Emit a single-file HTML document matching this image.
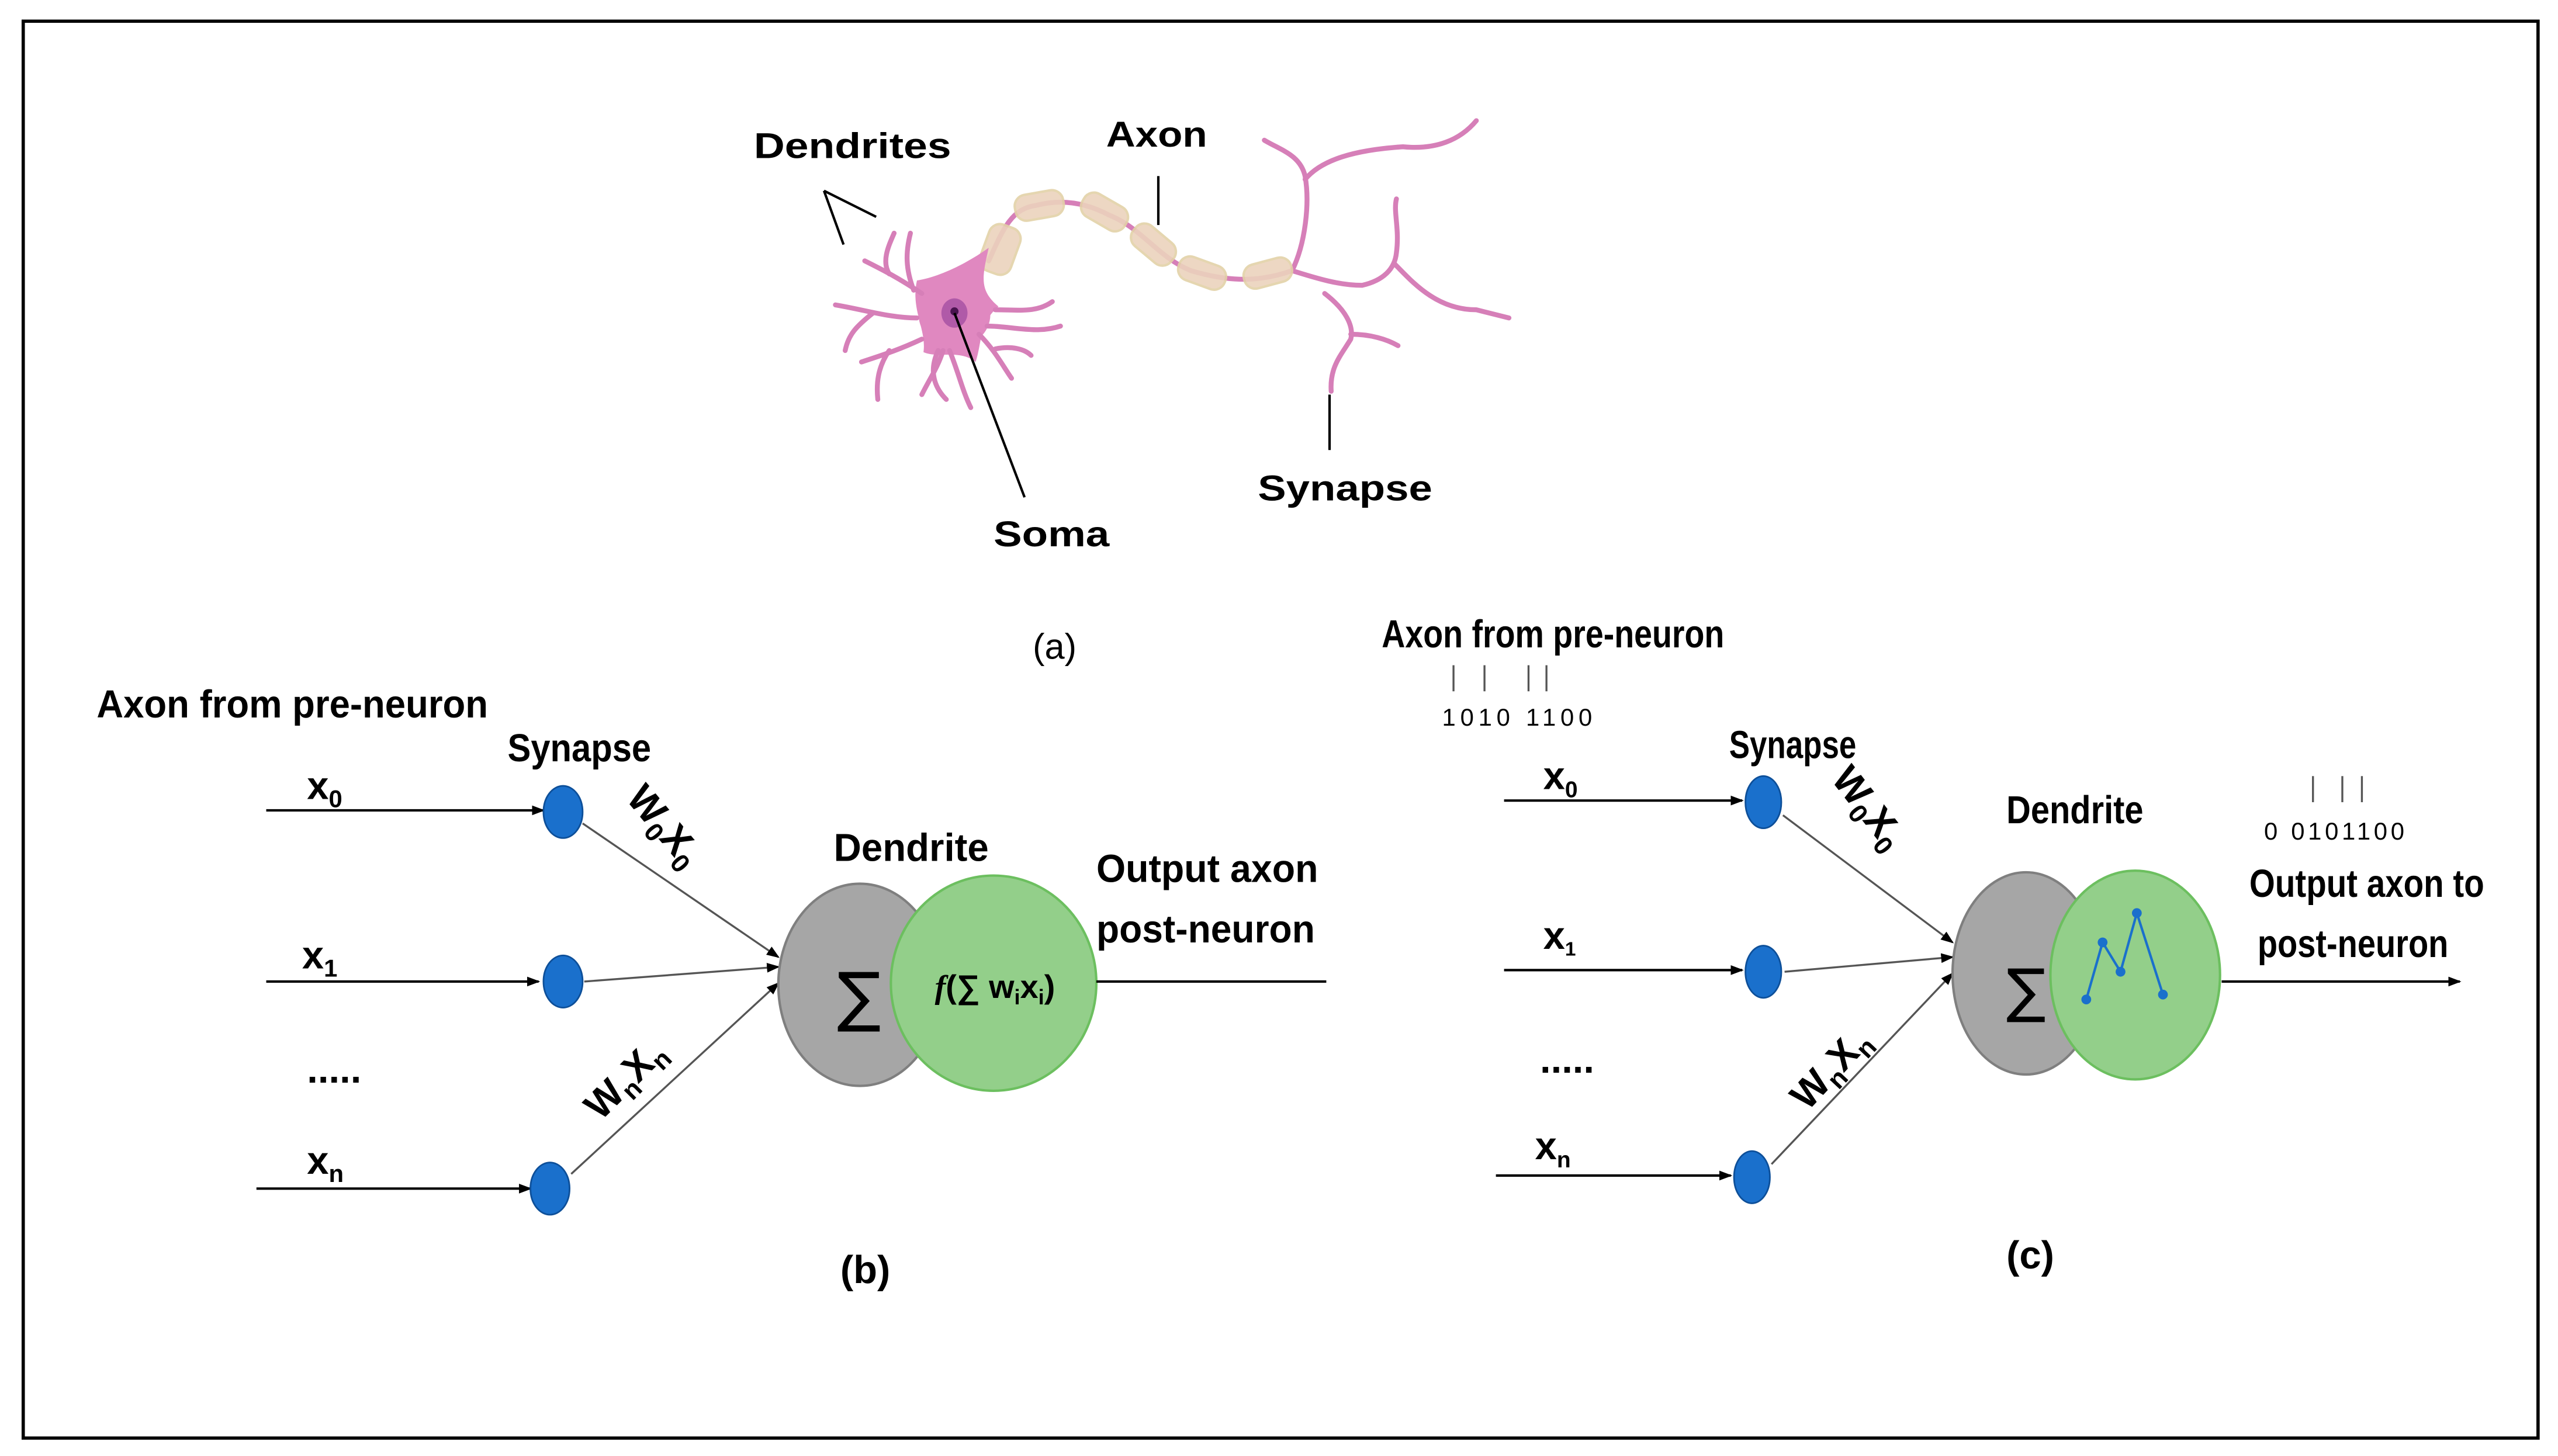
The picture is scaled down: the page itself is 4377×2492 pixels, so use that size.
<!DOCTYPE html>
<html><head><meta charset="utf-8"><style>
html,body{margin:0;padding:0;background:#fff;}
svg{display:block;}
text{font-family:"Liberation Sans Narrow","Liberation Sans",sans-serif;}
.a{font-family:"Liberation Sans",sans-serif;font-weight:bold;font-size:22px;}
.b{font-weight:bold;font-size:24px;}
.d{stroke:#d67fb8;stroke-width:3;fill:none;stroke-linecap:round;stroke-linejoin:round;}
.m{fill:#ecd3bd;stroke:#e3d2a8;stroke-width:1.5;opacity:.9;}
</style></head><body>
<svg width="4377" height="2492" viewBox="0 0 1568 893" xmlns="http://www.w3.org/2000/svg">
<defs><marker id="ar" markerWidth="8" markerHeight="8" refX="7" refY="4" orient="auto" markerUnits="userSpaceOnUse"><path d="M0,1 L8,4 L0,7 Z" fill="#000"/></marker></defs>
<rect x="14" y="13" width="1542" height="869" fill="#fff" stroke="#000" stroke-width="2"/>

<!-- (a) neuron -->
<g>
<path class="d" d="M606,160 C615,140 620,128 635,126 C650,122 665,124 680,132 C700,140 710,158 730,166 C750,172 770,174 792,166"/>
<path class="d" d="M792,166 C800,150 803,125 800,108 C797,95 785,92 775,86"/>
<path class="d" d="M800,110 C810,98 830,92 860,90 C880,92 895,86 905,74"/>
<path class="d" d="M792,166 C805,170 820,175 835,175 C848,172 855,165 856,155 C858,140 854,130 856,122"/>
<path class="d" d="M855,162 C865,172 880,190 905,190 L925,195"/>
<path class="d" d="M812,180 C825,190 830,200 828,208 C822,218 815,225 816,240"/>
<path class="d" d="M828,205 C840,205 850,208 857,212"/>
<g class="m">
<rect x="603" y="138" width="20" height="30" rx="7" transform="rotate(20 613 153)"/>
<rect x="622" y="118" width="30" height="16" rx="7" transform="rotate(-10 637 126)"/>
<rect x="662" y="122" width="30" height="16" rx="7" transform="rotate(30 677 130)"/>
<rect x="692" y="142" width="30" height="16" rx="7" transform="rotate(40 707 150)"/>
<rect x="722" y="160" width="30" height="15" rx="7" transform="rotate(20 737 167)"/>
<rect x="762" y="160" width="30" height="15" rx="7" transform="rotate(-15 777 167)"/>
</g>
<path d="M562,172 C575,170 592,162 606,152 C602,170 600,178 612,188 C600,198 602,210 598,222 C588,214 575,220 566,216 C568,202 558,190 562,172 Z" fill="#e088c0"/>
<ellipse cx="585" cy="193" rx="22" ry="20" fill="#e088c0"/>
<g class="d" style="stroke-width:3">
<path d="M565,180 C550,170 540,165 530,160"/><path d="M545,168 C540,160 545,150 548,143"/>
<path d="M562,195 C545,195 530,190 512,187"/><path d="M535,192 C525,200 520,205 518,215"/>
<path d="M565,208 C550,215 540,218 528,222"/><path d="M545,215 C538,225 537,235 538,245"/>
<path d="M578,215 C575,225 570,232 565,242"/><path d="M582,215 C588,230 590,240 595,250"/>
<path d="M600,205 C610,215 615,225 620,232"/><path d="M610,214 C620,212 628,214 632,218"/>
<path d="M610,190 C625,190 635,192 645,185"/><path d="M560,178 C555,165 555,155 558,143"/>
<path d="M605,200 C620,200 635,205 650,200"/><path d="M575,215 C568,230 575,240 580,245"/>
</g>
<ellipse cx="585" cy="192" rx="8" ry="9" fill="#b05aa8"/><circle cx="585" cy="191" r="2.5" fill="#4a1450"/>
</g>
<g stroke="#000" stroke-width="1.5">
<line x1="505" y1="117" x2="517" y2="150"/><line x1="505" y1="117" x2="537" y2="133"/>
<line x1="710" y1="108" x2="710" y2="138"/><line x1="585" y1="192" x2="628" y2="305"/>
<line x1="815" y1="242" x2="815" y2="276"/>
</g>
<text class="a" x="462" y="97" textLength="121" lengthAdjust="spacingAndGlyphs">Dendrites</text>
<text class="a" x="678" y="90" textLength="62" lengthAdjust="spacingAndGlyphs">Axon</text>
<text class="a" x="771" y="307" textLength="107" lengthAdjust="spacingAndGlyphs">Synapse</text>
<text class="a" x="609" y="335" textLength="71" lengthAdjust="spacingAndGlyphs">Soma</text>
<text x="633" y="404" font-size="22" style="font-family:'Liberation Sans',sans-serif">(a)</text>

<!-- (b) -->
<text class="b" x="59" y="440" textLength="240" lengthAdjust="spacingAndGlyphs">Axon from pre-neuron</text>
<text class="b" x="311" y="467" textLength="88" lengthAdjust="spacingAndGlyphs">Synapse</text>
<g stroke="#000" stroke-width="1.5">
<line x1="163" y1="497" x2="333" y2="497" marker-end="url(#ar)"/>
<line x1="163" y1="602" x2="330" y2="602" marker-end="url(#ar)"/>
<line x1="157" y1="729" x2="325" y2="729" marker-end="url(#ar)"/>
</g>
<g stroke="#555" stroke-width="1.2">
<line x1="357" y1="505" x2="477" y2="587" marker-end="url(#ar)"/>
<line x1="358" y1="602" x2="477" y2="593" marker-end="url(#ar)"/>
<line x1="350" y1="720" x2="477" y2="603" marker-end="url(#ar)"/>
</g>
<g fill="#1a70cc" stroke="#0d4f99"><ellipse cx="345" cy="498" rx="12" ry="16"/><ellipse cx="345" cy="602" rx="12" ry="16"/><ellipse cx="337" cy="729" rx="12" ry="16"/></g>
<text class="b" x="188" y="490" font-size="22">x<tspan font-size="15" dy="5">0</tspan></text>
<text class="b" x="185" y="594" font-size="22">x<tspan font-size="15" dy="5">1</tspan></text>
<text class="b" x="188" y="720" font-size="22">x<tspan font-size="15" dy="5">n</tspan></text>
<text class="b" x="188" y="664" font-size="20">.....</text>
<text class="b" font-size="24" transform="translate(383,490) rotate(50)">W<tspan font-size="16" dy="5">0</tspan><tspan dy="-5">X</tspan><tspan font-size="16" dy="5">0</tspan></text>
<text class="b" font-size="24" transform="translate(368,688) rotate(-45)">W<tspan font-size="16" dy="5">n</tspan><tspan dy="-5">X</tspan><tspan font-size="16" dy="5">n</tspan></text>
<ellipse cx="527" cy="604" rx="50" ry="62" fill="#a6a6a6" stroke="#7f7f7f" stroke-width="1.5"/>
<ellipse cx="609" cy="603" rx="63" ry="66" fill="#93cf8a" stroke="#6cbf5f" stroke-width="1.5"/>
<text x="513" y="625" font-size="40" style="font-family:'DejaVu Sans',sans-serif">∑</text>
<text x="573" y="612" font-size="20" font-weight="bold"><tspan font-style="italic" style="font-family:'Liberation Serif',serif">f</tspan>(∑ w<tspan font-size="13" dy="4">i</tspan><tspan dy="-4">x</tspan><tspan font-size="13" dy="4">i</tspan><tspan dy="-4">)</tspan></text>
<text class="b" x="511" y="528" textLength="95" lengthAdjust="spacingAndGlyphs">Dendrite</text>
<text class="b" x="672" y="541" textLength="136" lengthAdjust="spacingAndGlyphs">Output axon</text>
<text class="b" x="672" y="578" textLength="134" lengthAdjust="spacingAndGlyphs">post-neuron</text>
<line x1="672" y1="602" x2="813" y2="602" stroke="#000" stroke-width="1.5"/>
<text class="b" x="515" y="787" font-size="22">(b)</text>

<!-- (c) -->
<text class="b" x="847" y="397" textLength="210" lengthAdjust="spacingAndGlyphs">Axon from pre-neuron</text>
<g stroke="#555" stroke-width="1.2"><line x1="891" y1="408" x2="891" y2="424"/><line x1="910" y1="408" x2="910" y2="424"/><line x1="937" y1="408" x2="937" y2="424"/><line x1="948" y1="408" x2="948" y2="424"/></g>
<text x="884" y="445" font-size="15" textLength="92" lengthAdjust="spacing">1010 1100</text>
<text class="b" x="1060" y="465" textLength="78" lengthAdjust="spacingAndGlyphs" font-size="22">Synapse</text>
<g stroke="#000" stroke-width="1.5">
<line x1="922" y1="491" x2="1068" y2="491" marker-end="url(#ar)"/>
<line x1="922" y1="595" x2="1068" y2="595" marker-end="url(#ar)"/>
<line x1="917" y1="721" x2="1061" y2="721" marker-end="url(#ar)"/>
</g>
<g stroke="#555" stroke-width="1.2">
<line x1="1093" y1="500" x2="1197" y2="578" marker-end="url(#ar)"/>
<line x1="1094" y1="596" x2="1197" y2="587" marker-end="url(#ar)"/>
<line x1="1086" y1="714" x2="1197" y2="597" marker-end="url(#ar)"/>
</g>
<g fill="#1a70cc" stroke="#0d4f99"><ellipse cx="1081" cy="492" rx="11" ry="16"/><ellipse cx="1081" cy="596" rx="11" ry="16"/><ellipse cx="1074" cy="722" rx="11" ry="16"/></g>
<text class="b" x="946" y="484" font-size="20">x<tspan font-size="14" dy="5">0</tspan></text>
<text class="b" x="946" y="582" font-size="17">x<tspan font-size="12" dy="4">1</tspan></text>
<text class="b" x="941" y="711" font-size="20">x<tspan font-size="14" dy="5">n</tspan></text>
<text class="b" x="944" y="658" font-size="17">.....</text>
<text class="b" font-size="24" transform="translate(1122,478) rotate(52)">W<tspan font-size="16" dy="5">0</tspan><tspan dy="-5">X</tspan><tspan font-size="16" dy="5">0</tspan></text>
<text class="b" font-size="24" transform="translate(1108,682) rotate(-47)">W<tspan font-size="16" dy="5">n</tspan><tspan dy="-5">X</tspan><tspan font-size="16" dy="5">n</tspan></text>
<ellipse cx="1242" cy="597" rx="45" ry="62" fill="#a6a6a6" stroke="#7f7f7f" stroke-width="1.5"/>
<ellipse cx="1309" cy="598" rx="52" ry="64" fill="#93cf8a" stroke="#6cbf5f" stroke-width="1.5"/>
<text x="1230" y="620" font-size="36" style="font-family:'DejaVu Sans',sans-serif">∑</text>
<polyline points="1279,613 1289,578 1300,596 1310,560 1326,610" fill="none" stroke="#1a70cc" stroke-width="1.5"/>
<g fill="#1a70cc"><circle cx="1279" cy="613" r="3"/><circle cx="1289" cy="578" r="3"/><circle cx="1300" cy="596" r="3"/><circle cx="1310" cy="560" r="3"/><circle cx="1326" cy="610" r="3"/></g>
<text class="b" x="1230" y="505" textLength="84" lengthAdjust="spacingAndGlyphs" font-size="22">Dendrite</text>
<g stroke="#555" stroke-width="1.2"><line x1="1418" y1="476" x2="1418" y2="492"/><line x1="1436" y1="476" x2="1436" y2="492"/><line x1="1448" y1="476" x2="1448" y2="492"/></g>
<text x="1388" y="515" font-size="15" textLength="86" lengthAdjust="spacing">0 0101100</text>
<text class="b" x="1379" y="550" textLength="144" lengthAdjust="spacingAndGlyphs">Output axon to</text>
<text class="b" x="1384" y="587" textLength="117" lengthAdjust="spacingAndGlyphs">post-neuron</text>
<line x1="1362" y1="602" x2="1508" y2="602" stroke="#000" stroke-width="1.5" marker-end="url(#ar)"/>
<text class="b" x="1230" y="778" font-size="22">(c)</text>
</svg>
</body></html>
